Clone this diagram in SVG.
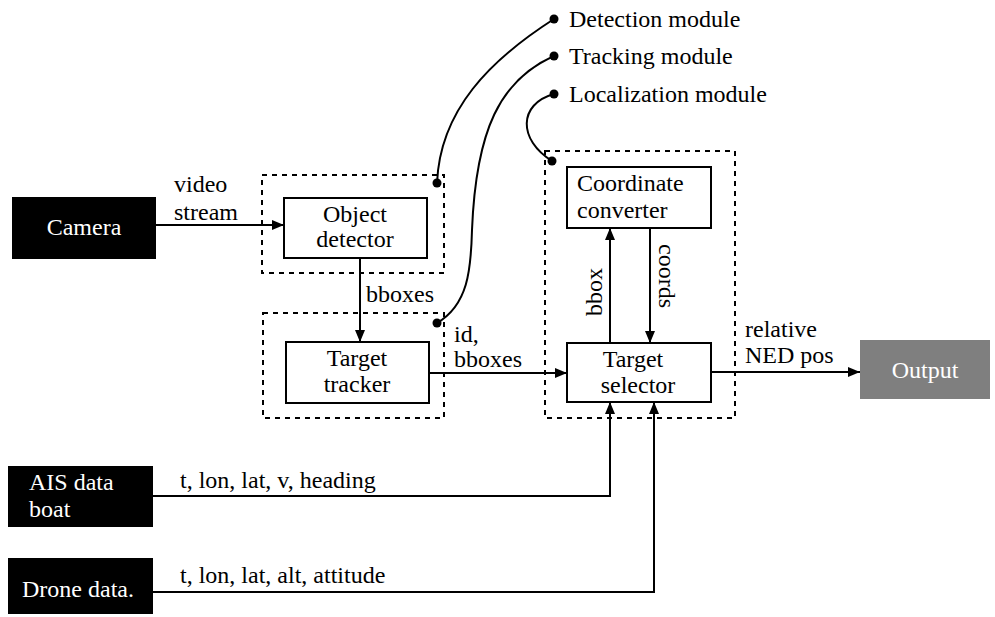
<svg xmlns="http://www.w3.org/2000/svg" width="995" height="617" viewBox="0 0 995 617">
<style>
text{font-family:"Liberation Serif","Times New Roman",Times,serif;font-size:24px;fill:#000}
.w{fill:#fff}
.c{text-anchor:middle}
.box{fill:#fff;stroke:#000;stroke-width:2}
.dash{fill:none;stroke:#000;stroke-width:2;stroke-dasharray:5 5}
.ln{fill:none;stroke:#000;stroke-width:2}
.cv{fill:none;stroke:#000;stroke-width:2}
</style>
<defs>
<marker id="ah" markerWidth="12" markerHeight="10" refX="12" refY="5" orient="auto" markerUnits="userSpaceOnUse">
<path d="M0,0 L12,5 L0,10 Z" fill="#000"/>
</marker>
</defs>
<rect width="995" height="617" fill="#fff"/>

<g id="detection-module">
<rect class="dash" x="262" y="175" width="182" height="98"/>
</g>
<g id="tracking-module">
<rect class="dash" x="263" y="313" width="181" height="105"/>
</g>
<g id="localization-module">
<rect class="dash" x="545" y="151" width="190" height="267"/>
</g>

<g id="camera">
<rect x="12" y="197" width="144" height="62" fill="#000"/>
<text class="w c" x="84" y="235">Camera</text>
</g>
<g id="object-detector">
<rect class="box" x="284" y="198" width="143" height="60"/>
<text class="c" x="355" y="222">Object</text>
<text class="c" x="355" y="247">detector</text>
</g>
<g id="target-tracker">
<rect class="box" x="286" y="342" width="143" height="61"/>
<text class="c" x="357" y="366">Target</text>
<text class="c" x="357" y="392">tracker</text>
</g>
<g id="coordinate-converter">
<rect class="box" x="567" y="167" width="144" height="61"/>
<text x="577" y="191">Coordinate</text>
<text x="577" y="218">converter</text>
</g>
<g id="target-selector">
<rect class="box" x="567" y="343" width="144" height="59"/>
<text class="c" x="633" y="367">Target</text>
<text class="c" x="638" y="393">selector</text>
</g>
<g id="output">
<rect x="860" y="340" width="130" height="59" fill="#7f7f7f"/>
<text class="w c" x="925" y="378">Output</text>
</g>
<g id="ais">
<rect x="8" y="466" width="145" height="61" fill="#000"/>
<text class="w" x="29" y="490">AIS data</text>
<text class="w" x="29" y="517">boat</text>
</g>
<g id="drone">
<rect x="8" y="558" width="145" height="56" fill="#000"/>
<text class="w" x="22" y="597">Drone data.</text>
</g>

<g id="legend">
<circle cx="554" cy="19" r="4.5"/>
<text x="569" y="27">Detection module</text>
<circle cx="554" cy="56" r="4.5"/>
<text x="569" y="64">Tracking module</text>
<circle cx="554" cy="94" r="4.5"/>
<text x="569" y="102">Localization module</text>
</g>

<g id="connectors">
<path class="cv" d="M437,183 C440,110 490,60 554,19"/>
<circle cx="437" cy="183" r="4.5"/>
<path class="cv" d="M437,323 C468,305 471,270 472,230 C476,130 500,80 554,56"/>
<circle cx="437" cy="323" r="4.5"/>
<path class="cv" d="M554,94 C518,104 518,140 552,161"/>
<circle cx="552" cy="161" r="4.5"/>

<line class="ln" x1="156" y1="225" x2="284" y2="225" marker-end="url(#ah)"/>
<text x="174" y="192">video</text>
<text x="174" y="220">stream</text>

<line class="ln" x1="360" y1="258" x2="360" y2="342" marker-end="url(#ah)"/>
<text x="366" y="302">bboxes</text>

<line class="ln" x1="429" y1="373" x2="567" y2="373" marker-end="url(#ah)"/>
<text x="454" y="342">id,</text>
<text x="454" y="367">bboxes</text>

<line class="ln" x1="610" y1="343" x2="610" y2="228" marker-end="url(#ah)"/>
<text class="c" transform="translate(602,292) rotate(-90)">bbox</text>
<line class="ln" x1="650" y1="228" x2="650" y2="343" marker-end="url(#ah)"/>
<text class="c" transform="translate(659,276) rotate(90)">coords</text>

<line class="ln" x1="711" y1="372" x2="860" y2="372" marker-end="url(#ah)"/>
<text x="745" y="337">relative</text>
<text x="745" y="363">NED pos</text>

<polyline class="ln" points="153,496 610,496 610,402" marker-end="url(#ah)"/>
<text x="180" y="488">t, lon, lat, v, heading</text>
<polyline class="ln" points="153,592 654,592 654,402" marker-end="url(#ah)"/>
<text x="180" y="583">t, lon, lat, alt, attitude</text>
</g>
</svg>
